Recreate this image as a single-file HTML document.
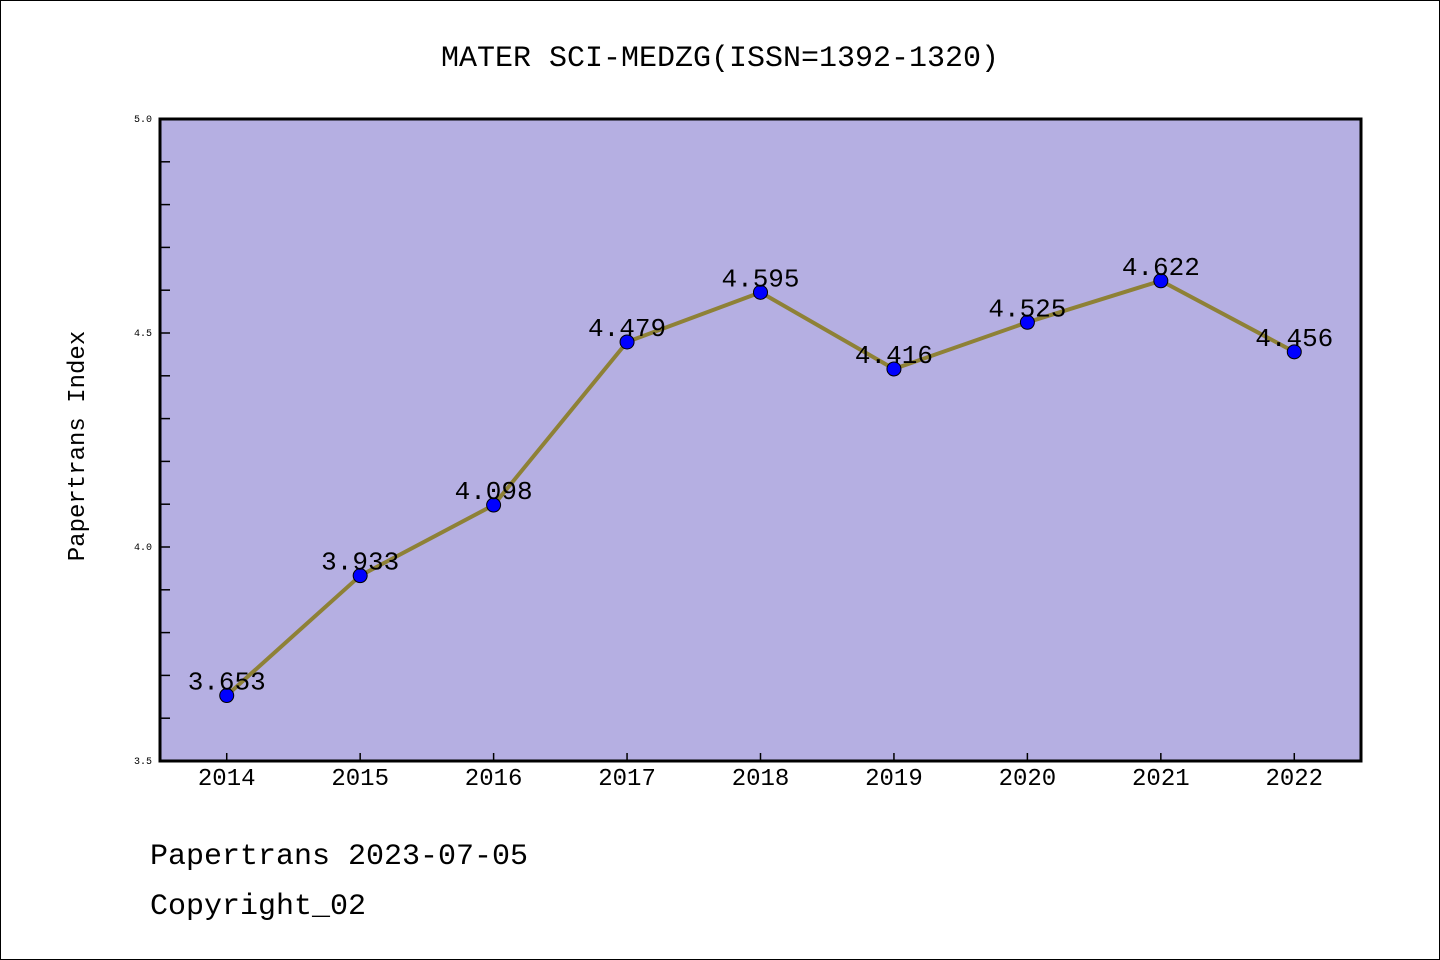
<!DOCTYPE html>
<html><head><meta charset="utf-8"><style>
html,body{margin:0;padding:0;background:#fff;}
svg{display:block;}
text{font-family:"WenQuanYi Zen Hei","Liberation Mono","Noto Sans CJK SC",monospace;}
</style></head><body>
<svg id="chart" width="1440" height="960" xmlns="http://www.w3.org/2000/svg">
<rect x="0.5" y="0.5" width="1439" height="959" fill="#fff" stroke="#000" stroke-width="1"/>
<text x="720" y="66" font-size="30" text-anchor="middle">MATER SCI-MEDZG(ISSN=1392-1320)</text>
<rect x="160" y="119" width="1201" height="642" fill="#b5afe2"/>
<g id="axes"></g>
<g id="marks"></g>
<rect x="160" y="119" width="1201" height="642" fill="none" stroke="#000" stroke-width="3"/>
<text transform="translate(84,446) rotate(-90)" font-size="24" text-anchor="middle">Papertrans Index</text>
<text x="150" y="864" font-size="30">Papertrans 2023-07-05</text>
<text x="150" y="914" font-size="30">Copyright_02</text>
</svg>
<script>
const years = [2014,2015,2016,2017,2018,2019,2020,2021,2022];
const values = [3.653,3.933,4.098,4.479,4.595,4.416,4.525,4.622,4.456];
const labels = ["3.653","3.933","4.098","4.479","4.595","4.416","4.525","4.622","4.456"];
const yTicks = [3.5,4.0,4.5,5.0];
const yTickLabels = ["3.5","4.0","4.5","5.0"];

const NS="http://www.w3.org/2000/svg";
const X0=160,X1=1361,Y0=761,Y1=119;
const xs=v=>X0+(v-(years[0]-0.5))/(years.length)*(X1-X0);
const ys=v=>Y0-(v-3.5)/1.5*(Y0-Y1);
function mk(tag,attrs,parent){const e=document.createElementNS(NS,tag);for(const k in attrs)e.setAttribute(k,attrs[k]);parent.appendChild(e);return e;}
const axes=document.getElementById('axes'),marks=document.getElementById('marks');
for(let i=0;i<=15;i++){const v=3.5+i*0.1;const y=ys(v);
 const t=mk('line',{x1:X0,x2:X0+10,y1:y,y2:y,stroke:'#000','stroke-width':1.5},axes);
 
 }
yTicks.forEach((v,i)=>{const t=mk('text',{x:X0-8,y:ys(v)+3,'font-size':10,'text-anchor':'end'},axes);t.textContent=yTickLabels[i];
 
 });
years.forEach(yr=>{const x=xs(yr);
 const l=mk('line',{x1:x,x2:x,y1:Y0,y2:Y0-8,stroke:'#000','stroke-width':1.5},axes);
 
 
 const t=mk('text',{x:x,y:785,'font-size':24,'text-anchor':'middle'},axes);t.textContent=yr;
 
 });
const pts=years.map((yr,i)=>xs(yr)+','+ys(values[i])).join(' ');
const pl=mk('polyline',{points:pts,fill:'none',stroke:'#8e8136','stroke-width':4,'stroke-linejoin':'round'},marks);


years.forEach((yr,i)=>{
 const c=mk('circle',{cx:xs(yr),cy:ys(values[i]),r:7,fill:'#0000ff',stroke:'#000','stroke-width':1},marks);
 
 
 const t=mk('text',{x:xs(yr),y:ys(values[i])-6,'font-size':26,'text-anchor':'middle'},marks);t.textContent=labels[i];
 
 });
</script>
</body></html>
